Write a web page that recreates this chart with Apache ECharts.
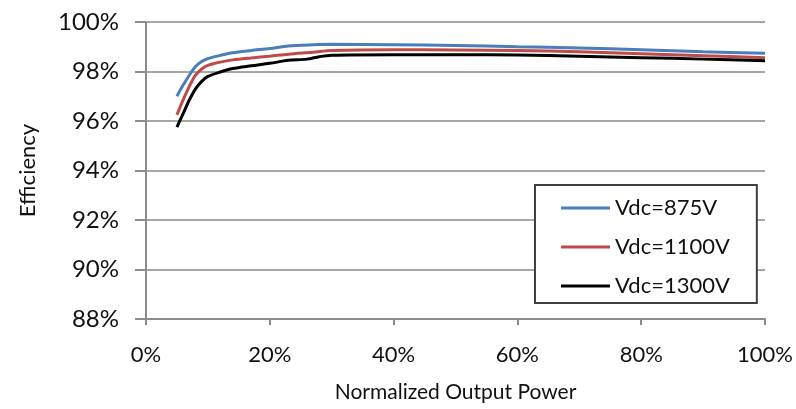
<!DOCTYPE html>
<html style="height: 100%">
<head>
    <meta charset="utf-8">
    <title>Efficiency</title>
</head>
<body style="height: 100%; margin: 0; background: #fff">
<div id="container" style="width: 796px; height: 409px"></div>
<script src="https://cdn.jsdelivr.net/npm/echarts@6/dist/echarts.min.js"></script>
<script type="text/javascript">
    // normalized output power (%)
    var power875 = [5, 6, 7, 8, 9, 10, 12, 14, 17, 20, 23, 27, 30, 40, 50, 60, 70, 80, 90, 100];
    var eff875 = [97.0, 97.45, 97.85, 98.2, 98.4, 98.52, 98.65, 98.76, 98.85, 98.93, 99.03, 99.08, 99.1, 99.08, 99.05, 99.0, 98.95, 98.88, 98.8, 98.74];

    var power1100 = [5, 6, 7, 8, 9, 10, 12, 14, 17, 20, 23, 27, 30, 40, 50, 60, 70, 80, 90, 100];
    var eff1100 = [96.25, 96.85, 97.4, 97.85, 98.1, 98.25, 98.38, 98.47, 98.55, 98.62, 98.7, 98.78, 98.85, 98.88, 98.87, 98.85, 98.8, 98.72, 98.64, 98.56];

    var power1300 = [5, 6, 7, 8, 9, 10, 12, 14, 17, 20, 23, 26, 28, 30, 40, 50, 60, 70, 80, 90, 100];
    var eff1300 = [95.75, 96.3, 96.85, 97.3, 97.6, 97.8, 97.98, 98.12, 98.23, 98.33, 98.45, 98.5, 98.6, 98.66, 98.68, 98.68, 98.67, 98.62, 98.56, 98.5, 98.43];

    var seriesNames = ['Vdc=875V', 'Vdc=1100V', 'Vdc=1300V'];
    var colors = ['#4a7ebb', '#be4b48', '#000000'];

    var zip = function (xs, ys) {
        var res = [];
        for (var i = 0; i < xs.length; i++) {
            res.push([xs[i], ys[i]]);
        }
        return res;
    };

    var dom = document.getElementById('container');
    var myChart = echarts.init(dom);
    var font = 'Lato, "Open Sans", sans-serif';

    var series = [[power875, eff875], [power1100, eff1100], [power1300, eff1300]].map(function (item, i) {
        return {
            name: seriesNames[i],
            type: 'line',
            smooth: 0.3,
            symbol: 'none',
            lineStyle: {color: colors[i], width: 3},
            itemStyle: {color: colors[i]},
            data: zip(item[0], item[1])
        };
    });

    var option = {
        backgroundColor: '#fff',
        animation: false,
        textStyle: {fontFamily: font},
        grid: {left: 146, right: 30, top: 22, bottom: 90},
        legend: {
            orient: 'vertical',
            left: 535,
            top: 185,
            padding: [12, 27, 6, 26],
            itemGap: 17,
            itemWidth: 49,
            itemHeight: 3,
            icon: 'rect',
            backgroundColor: '#fff',
            borderColor: '#404040',
            borderWidth: 2,
            textStyle: {fontSize: 22, color: '#111', fontFamily: font, lineHeight: 22},
            data: seriesNames
        },
        xAxis: {
            type: 'value',
            min: 0,
            max: 100,
            interval: 20,
            name: 'Normalized Output Power',
            nameLocation: 'middle',
            nameGap: 63,
            nameTextStyle: {fontSize: 21, color: '#111', fontFamily: font},
            axisLine: {lineStyle: {color: '#8c8c8c', width: 2}},
            axisTick: {show: true, length: 6, lineStyle: {color: '#8c8c8c', width: 2}},
            axisLabel: {formatter: '{value}%', fontSize: 22, color: '#111', margin: 25, fontFamily: font},
            splitLine: {show: false}
        },
        yAxis: {
            type: 'value',
            min: 88,
            max: 100,
            interval: 2,
            name: 'Efficiency',
            nameLocation: 'middle',
            nameGap: 107,
            nameTextStyle: {fontSize: 22, color: '#111', fontFamily: font},
            axisLine: {show: true, lineStyle: {color: '#8c8c8c', width: 2}},
            axisTick: {show: true, length: 11, lineStyle: {color: '#8c8c8c', width: 2}},
            axisLabel: {formatter: '{value}%', fontSize: 24, color: '#111', margin: 27, fontFamily: font},
            splitLine: {show: true, lineStyle: {color: '#a6a6a6', width: 2}}
        },
        series: series
    };
    myChart.setOption(option);
</script>
</body>
</html>
